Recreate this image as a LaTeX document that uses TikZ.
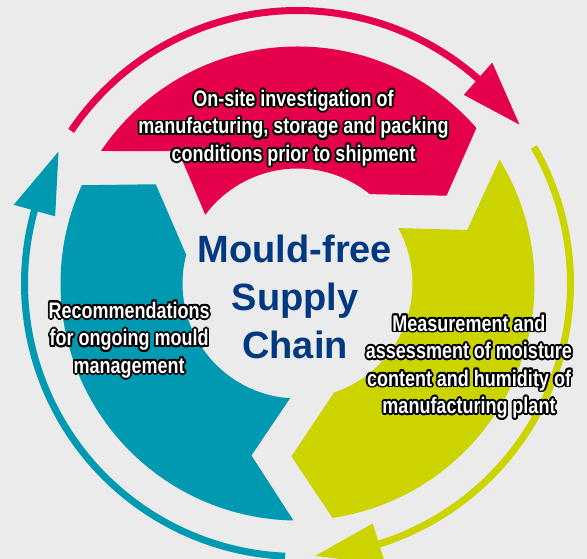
\documentclass[tikz,border=0pt]{standalone}
\usepackage{fontspec}
\setmainfont{Liberation Sans}
\newfontfamily\narrowfont{Liberation Sans}[FakeStretch=0.8]
\usetikzlibrary{calc}
\definecolor{bgGray}{RGB}{235,235,235}
\definecolor{ringRed}{RGB}{228,0,75}
\definecolor{ringTeal}{RGB}{0,153,178}
\definecolor{ringLime}{RGB}{204,212,0}
\definecolor{titleBlue}{RGB}{0,56,130}

% thick ring piece: colour, tip angle, notch angle
\newcommand{\ringpart}[3]{%
  \fill[#1] ({#2+10.5}:237) arc[start angle={#2+10.5}, end angle={#3+14}, radius=237]
    -- (#3:178) -- ({#3+11.3}:115)
    arc[start angle={#3+11.3}, end angle={#2+20.5}, radius=115]
    -- (#2:173) -- cycle;
}
% thin outer arrow: colour, start angle, base angle, tip angle
\newcommand{\outerarrow}[4]{%
  \draw[#1, line width=7pt] (#2:273) arc[start angle=#2, end angle={#3-1}, radius=273];
  \fill[#1] (#4:273) -- (#3:251.5) -- (#3:294.5) -- cycle;
}
% white label with a black rim
\newcommand{\halonode}[3]{%
  \foreach \hang in {0,22.5,...,337.5}
    \node[stagetext, text=black] at ($(#2)+(\hang:1.8)$) {#3};
  \node[stagetext, text=white] (#1) at (#2) {#3};
}

\begin{document}
\begin{tikzpicture}[x=1pt, y=1pt,
  stagetext/.style={font=\narrowfont\bfseries\fontsize{22.5}{27.5}\selectfont, align=center, inner sep=0pt}]
\clip (-297.5,-275.5) rectangle (289.5,283.5);
\fill[bgGray] (-297.5,-275.5) rectangle (289.5,283.5);

\outerarrow{ringRed}{146}{48.6}{35.6}
\outerarrow{ringLime}{30}{-72.6}{-86.3}
\outerarrow{ringTeal}{267.4}{164.5}{151.1}

\ringpart{ringRed}{30.5}{132}
\ringpart{ringLime}{-92}{17.5}
\ringpart{ringTeal}{145}{255}

\halonode{inspect}{-4,155.5}{On-site investigation of\\manufacturing, storage and packing\\conditions prior to shipment}
\halonode{measure}{171.5,-83}{Measurement and\\assessment of moisture\\content and humidity of\\manufacturing plant}
\halonode{advise}{-168.3,-56.5}{Recommendations\\for ongoing mould\\management}

\node[font=\bfseries\fontsize{38}{48}\selectfont, text=titleBlue, align=center, inner sep=0pt] (title) at (-2.5,-13.5) {Mould-free\\Supply\\Chain};
\end{tikzpicture}
\end{document}
